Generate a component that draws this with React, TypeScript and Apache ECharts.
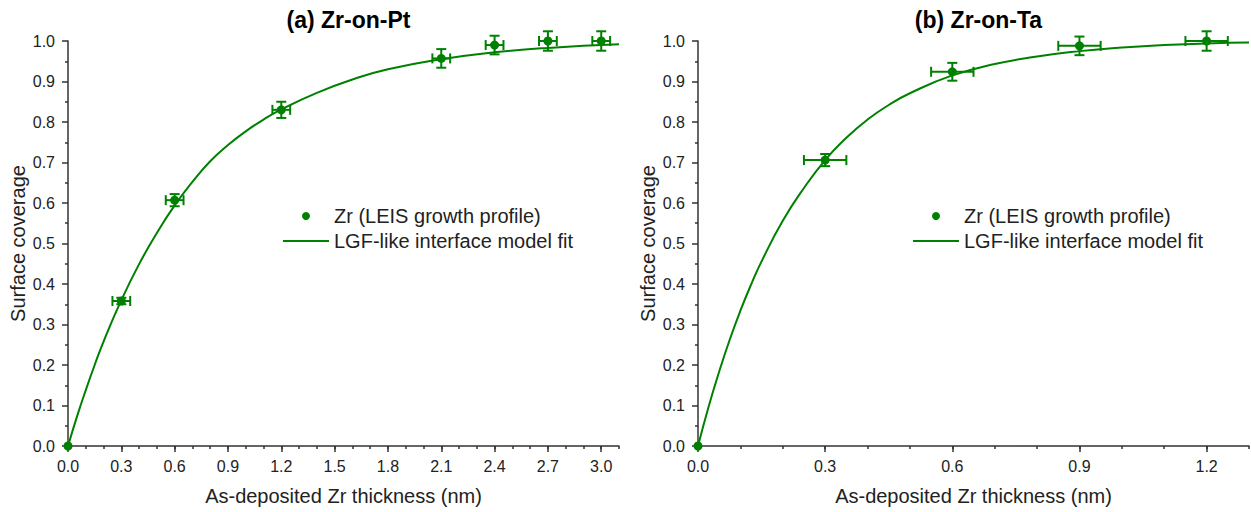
import React, { useEffect, useRef } from "react";
import * as echarts from "echarts";

const FONT = 'Arial, "Liberation Sans", sans-serif';
const GREEN = "#008000";
const AXIS = "#333333";
const TEXT = "#222222";

const SCATTER_NAME = "Zr (LEIS growth profile)";
const FIT_NAME = "LGF-like interface model fit";

// Panel (a) Zr-on-Pt
const ptX = [0, 0.3, 0.6, 1.2, 2.1, 2.4, 2.7, 3.0];
const ptY = [0, 0.358, 0.607, 0.83, 0.957, 0.99, 1.0, 1.0];
const ptXErr = [0, 0.05, 0.05, 0.05, 0.05, 0.05, 0.05, 0.05];
const ptYErr = [0, 0.008, 0.015, 0.02, 0.023, 0.023, 0.024, 0.024];
const ptFitX = [0, 0.05, 0.1, 0.15, 0.2, 0.3, 0.4, 0.5, 0.6, 0.7, 0.8, 0.9, 1.0, 1.1, 1.2, 1.4, 1.6, 1.8, 2.1, 2.4, 2.7, 3.1];
const ptFitY = [0, 0.072, 0.138, 0.2, 0.258, 0.36, 0.449, 0.526, 0.594, 0.652, 0.703, 0.743, 0.777, 0.806, 0.831, 0.872, 0.905, 0.93, 0.955, 0.972, 0.983, 0.992];
const ptXTicks = [0, 0.3, 0.6, 0.9, 1.2, 1.5, 1.8, 2.1, 2.4, 2.7, 3.0];

// Panel (b) Zr-on-Ta
const taX = [0, 0.3, 0.6, 0.9, 1.2];
const taY = [0, 0.706, 0.924, 0.988, 1.0];
const taXErr = [0, 0.05, 0.05, 0.05, 0.05];
const taYErr = [0, 0.015, 0.022, 0.023, 0.024];
const taFitX = [0, 0.025, 0.05, 0.075, 0.1, 0.125, 0.15, 0.2, 0.25, 0.3, 0.35, 0.4, 0.45, 0.5, 0.6, 0.7, 0.8, 0.9, 1.0, 1.1, 1.2, 1.3];
const taFitY = [0, 0.097, 0.184, 0.263, 0.334, 0.398, 0.456, 0.556, 0.637, 0.706, 0.761, 0.806, 0.842, 0.871, 0.915, 0.943, 0.962, 0.975, 0.984, 0.99, 0.994, 0.996];
const taXTicks = [0, 0.3, 0.6, 0.9, 1.2];

const panels = [
  { title: "(a) Zr-on-Pt", x: ptX, y: ptY, xe: ptXErr, ye: ptYErr, fx: ptFitX, fy: ptFitY, ticks: ptXTicks, xmax: 3.1, left: 68, width: 551 },
  { title: "(b) Zr-on-Ta", x: taX, y: taY, xe: taXErr, ye: taYErr, fx: taFitX, fy: taFitY, ticks: taXTicks, xmax: 1.3, left: 698, width: 551 },
];

export default function App() {
  const ref = useRef<HTMLDivElement>(null);
  useEffect(() => {
    if (!ref.current) return;
    const chart = echarts.init(ref.current, undefined, { renderer: "svg" });
    const grids: any[] = [];
    const xAxes: any[] = [];
    const yAxes: any[] = [];
    const series: any[] = [];
    const titles: any[] = [];
    const legends: any[] = [];

    panels.forEach((p, i) => {
      grids.push({ left: p.left, width: p.width, top: 41, height: 405, containLabel: false });
      const center = p.left + p.width / 2;
      titles.push({
        text: p.title,
        left: center,
        textAlign: "center",
        top: 3,
        textStyle: { fontFamily: FONT, fontWeight: "bold", fontSize: 23, color: "#000" },
      });
      xAxes.push({
        gridIndex: i,
        type: "value",
        min: 0,
        max: p.xmax,
        interval: 0.3,
        position: "bottom",
        name: "As-deposited Zr thickness (nm)",
        nameLocation: "middle",
        nameGap: 40,
        nameTextStyle: { fontFamily: FONT, fontSize: 20, color: TEXT },
        axisLine: { show: true, onZero: false, lineStyle: { color: AXIS, width: 1.5 } },
        axisTick: { show: true, inside: false, length: 6, customValues: p.ticks, lineStyle: { color: AXIS, width: 1.5 } },
        axisLabel: {
          customValues: p.ticks,
          margin: 12,
          fontFamily: FONT,
          fontSize: 16,
          color: TEXT,
          formatter: (v: number) => v.toFixed(1),
        },
        splitLine: { show: false },
      });
      xAxes.push({
        gridIndex: i,
        type: "value",
        min: 0,
        max: p.xmax,
        interval: 0.1,
        position: "bottom",
        axisLine: { show: false, onZero: false },
        axisTick: { show: true, inside: false, length: 3, lineStyle: { color: AXIS, width: 1.5 } },
        axisLabel: { show: false },
        splitLine: { show: false },
      });
      yAxes.push({
        gridIndex: i,
        type: "value",
        min: 0,
        max: 1,
        interval: 0.1,
        name: "Surface coverage",
        nameLocation: "middle",
        nameGap: 40,
        nameTextStyle: { fontFamily: FONT, fontSize: 20, color: TEXT },
        axisLine: { show: true, onZero: false, lineStyle: { color: AXIS, width: 1.5 } },
        axisTick: { show: true, inside: false, length: 6, lineStyle: { color: AXIS, width: 1.5 } },
        minorTick: { show: true, splitNumber: 2, length: 3, lineStyle: { color: AXIS, width: 1.5 } },
        axisLabel: {
          margin: 13,
          fontFamily: FONT,
          fontSize: 16,
          color: TEXT,
          formatter: (v: number) => v.toFixed(1),
        },
        splitLine: { show: false },
        minorSplitLine: { show: false },
      });

      const fitData = p.fx.map((x, k) => [x, p.fy[k]]);
      series.push({
        type: "line",
        name: FIT_NAME,
        xAxisIndex: 2 * i,
        yAxisIndex: i,
        data: fitData,
        smooth: 0.5,
        symbol: "none",
        showSymbol: false,
        clip: false,
        lineStyle: { color: GREEN, width: 2 },
        itemStyle: { color: GREEN },
        z: 2,
      });
      const errData = p.x.map((x, k) => [x, p.y[k], p.xe[k], p.ye[k]]);
      series.push({
        type: "custom",
        name: SCATTER_NAME + " error",
        xAxisIndex: 2 * i,
        yAxisIndex: i,
        data: errData,
        clip: false,
        z: 3,
        renderItem: (params: any, api: any) => {
          const x = api.value(0);
          const y = api.value(1);
          const xe = api.value(2);
          const ye = api.value(3);
          const children: any[] = [];
          const cap = 5;
          const style = { stroke: GREEN, lineWidth: 2, fill: null };
          if (xe > 0) {
            const l = api.coord([x - xe, y]);
            const r = api.coord([x + xe, y]);
            children.push({ type: "line", shape: { x1: l[0], y1: l[1], x2: r[0], y2: r[1] }, style });
            children.push({ type: "line", shape: { x1: l[0], y1: l[1] - cap, x2: l[0], y2: l[1] + cap }, style });
            children.push({ type: "line", shape: { x1: r[0], y1: r[1] - cap, x2: r[0], y2: r[1] + cap }, style });
          }
          if (ye > 0) {
            const t = api.coord([x, y + ye]);
            const b = api.coord([x, y - ye]);
            children.push({ type: "line", shape: { x1: t[0], y1: t[1], x2: b[0], y2: b[1] }, style });
            children.push({ type: "line", shape: { x1: t[0] - cap, y1: t[1], x2: t[0] + cap, y2: t[1] }, style });
            children.push({ type: "line", shape: { x1: b[0] - cap, y1: b[1], x2: b[0] + cap, y2: b[1] }, style });
          }
          return { type: "group", children };
        },
      });
      const ptData = p.x.map((x, k) => [x, p.y[k]]);
      series.push({
        type: "scatter",
        name: SCATTER_NAME,
        xAxisIndex: 2 * i,
        yAxisIndex: i,
        data: ptData,
        symbol: "circle",
        symbolSize: 9,
        clip: false,
        itemStyle: { color: GREEN, opacity: 1 },
        z: 4,
      });

      const legLeft = p.left + 215;
      legends.push({
        data: [{ name: SCATTER_NAME, icon: "circle", itemStyle: { color: GREEN, opacity: 1 } }],
        orient: "vertical",
        left: legLeft + 19,
        top: 206,
        padding: 0,
        itemWidth: 46,
        itemHeight: 8,
        itemGap: 5,
        selectedMode: false,
        textStyle: { fontFamily: FONT, fontSize: 20, color: TEXT },
      });
      legends.push({
        data: [{ name: FIT_NAME, icon: "rect", itemStyle: { color: GREEN, opacity: 1 } }],
        orient: "vertical",
        left: legLeft,
        top: 231,
        padding: 0,
        itemWidth: 46,
        itemHeight: 2,
        itemGap: 5,
        symbolKeepAspect: false,
        selectedMode: false,
        textStyle: { fontFamily: FONT, fontSize: 20, color: TEXT },
      });
    });

    chart.setOption({
      animation: false,
      backgroundColor: "#ffffff",
      title: titles,
      legend: legends,
      grid: grids,
      xAxis: xAxes,
      yAxis: yAxes,
      series,
    });
    return () => chart.dispose();
  }, []);
  return <div ref={ref} style={{ position: "fixed", left: 0, top: 0, width: 1251, height: 512 }} />;
}
